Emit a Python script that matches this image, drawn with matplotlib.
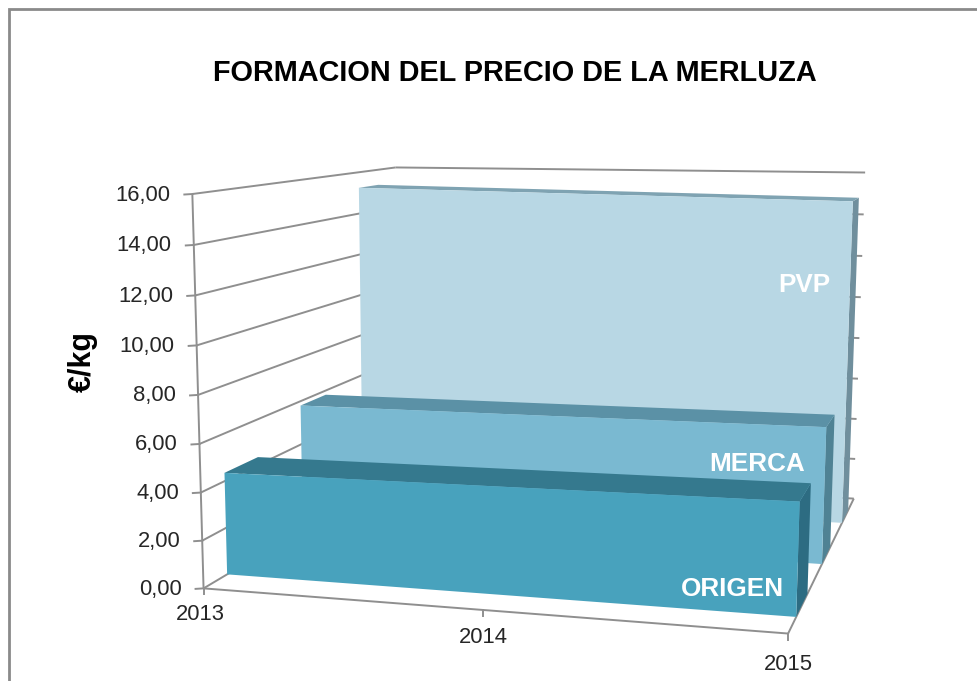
import numpy as np
import matplotlib
matplotlib.use("Agg")
import matplotlib.pyplot as plt

# ---- data ----
years = [2013, 2014, 2015]
origen = [4.35, 4.45, 4.55]
merca = [5.8, 5.87, 5.95]
pvp = [15.25, 15.1, 14.95]
series_names = ["ORIGEN", "MERCA", "PVP"]
y_ticks = [0, 2, 4, 6, 8, 10, 12, 14, 16]
title = "FORMACION DEL PRECIO DE LA MERLUZA"
y_label = "€/kg"

# ---- layout / style ----
W, H = 978, 681
plt.rcParams["font.family"] = ["Liberation Sans", "DejaVu Sans"]
fig = plt.figure(figsize=(W / 100, H / 100), dpi=100)
ax = fig.add_axes([0, 0, 1, 1])
ax.set_xlim(0, W)
ax.set_ylim(H, 0)
ax.axis("off")

GREY = "#8f8f8f"
TXT = "#262626"

# Camera calibration of the 3D box: (x 0..1, depth 0..1, value 0..1) <-> pixel
calib_world = [(0, 0, 0), (0, 0, 1), (0, 1, 0), (0, 1, 1), (1, 0, 0),
               (1, 1, 0), (1, 1, 1), (.5, 0, 0)]
calib_px = [(204, 587), (192, 194), (398, 474), (396, 167), (788, 635),
            (854, 497), (865, 173), (483, 610)]
A = []
for (X, Z, Y), (u, v) in zip(calib_world, calib_px):
    A.append([X, Z, Y, 1, 0, 0, 0, 0, -u * X, -u * Z, -u * Y, -u])
    A.append([0, 0, 0, 0, X, Z, Y, 1, -v * X, -v * Z, -v * Y, -v])
P = np.linalg.svd(np.array(A, float))[2][-1].reshape(3, 4)


def proj(year, depth, value):
    """Project data (year, depth fraction, value) to pixel position."""
    w = np.array([(year - years[0]) / (years[-1] - years[0]), depth, value / y_ticks[-1], 1.0])
    p = P @ w
    return p[0] / p[2], p[1] / p[2]


def line(a, b, **kw):
    pa, pb = proj(*a), proj(*b)
    kw.setdefault("color", GREY)
    kw.setdefault("lw", 1.4)
    ax.plot([pa[0], pb[0]], [pa[1], pb[1]], solid_capstyle="butt", zorder=1, **kw)


# frame of the chart area (open on right and bottom in the crop)
ax.plot([8.5, 8.5, W], [H, 8.5, 8.5], color="#8a8a8a", lw=2, solid_joinstyle="miter")

# walls & floor
y0, y1 = years[0], years[-1]
for t in y_ticks:
    line((y0, 0, t), (y0, 1, t))          # side wall
    line((y0, 1, t), (y1, 1, t))          # back wall
    # tick left of the axis
    px, py = proj(y0, 0, t)
    ax.plot([px - 8, px], [py + .5, py], color=GREY, lw=1.4)
    ax.text(px - 22, py + 1, f"{t:.2f}".replace(".", ","), ha="right", va="center",
            fontsize=15.8, color=TXT)
line((y0, 0, 0), (y0, 0, y_ticks[-1]))
line((y0, 0, 0), (y1, 0, 0))
line((y1, 0, 0), (y1, 1, 0))
for yr in years:
    px, py = proj(yr, 0, 0)
    ax.plot([px, px], [py, py + 6], color=GREY, lw=1.4)

# areas, back to front
slabs = {
    "PVP": (pvp, (.775, .89), "#b8d7e4", "#7fa3b2", "#708f9d"),
    "MERCA": (merca, (.445, .575), "#7ab9d1", "#5b91a6", "#4f8294"),
    "ORIGEN": (origen, (.096, .24), "#48a2bd", "#35798e", "#2d6c82"),
}
for name in ["PVP", "MERCA", "ORIGEN"]:
    vals, (d0, d1), c_front, c_top, c_side = slabs[name]
    # right side
    side = [proj(y1, d0, 0), proj(y1, d1, 0), proj(y1, d1, vals[-1]), proj(y1, d0, vals[-1])]
    ax.fill(*zip(*side), color=c_side, lw=0, zorder=3)
    # top
    top = [proj(y, d0, v) for y, v in zip(years, vals)] + [proj(y, d1, v) for y, v in zip(years[::-1], vals[::-1])]
    ax.fill(*zip(*top), color=c_top, lw=0, zorder=3)
    # front
    front = [proj(y, d0, v) for y, v in zip(years, vals)] + [proj(y1, d0, 0), proj(y0, d0, 0)]
    ax.fill(*zip(*front), color=c_front, lw=0, zorder=3)

# category labels
for yr, (dx, dy) in zip(years, [(-3, 26), (0, 28), (0, 31)]):
    px, py = proj(yr, 0, 0)
    ax.text(px + dx, py + dy, str(yr), ha="center", va="center", fontsize=15.8, color=TXT)

# series labels
for name, (x, y) in zip(series_names, [(732, 589), (757, 464), (804, 285)]):
    ax.text(x, y, name, ha="center", va="center", color="white", fontsize=18.8, fontweight="bold", zorder=5)

ax.text(515, 73, title, ha="center", va="center", fontsize=20.8, fontweight="bold", color="black")
ax.text(83, 362, y_label, ha="center", va="center", rotation=90, fontsize=22, fontweight="bold", color="black")

fig.savefig("out.png", dpi=100)
